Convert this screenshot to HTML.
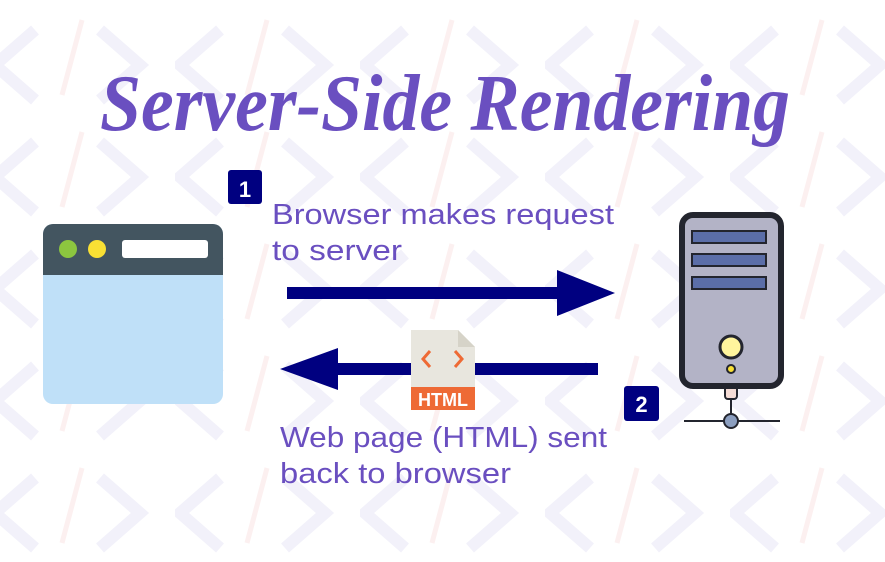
<!DOCTYPE html>
<html><head><meta charset="utf-8"><style>
html,body{margin:0;padding:0;background:#fff}
svg{display:block}
</style></head><body>
<svg width="885" height="562" viewBox="0 0 885 562" xmlns="http://www.w3.org/2000/svg">
<defs>
<pattern id="bg" width="185" height="112" patternUnits="userSpaceOnUse" x="-10" y="10">
<path d="M45 20 L5 55 L45 90" fill="none" stroke="#f2f1fa" stroke-width="12"/>
<path d="M110 20 L150 55 L110 90" fill="none" stroke="#f2f1fa" stroke-width="12"/>
<line x1="92" y1="10" x2="72" y2="85" stroke="#fcf0f0" stroke-width="5"/>
</pattern>
</defs>
<rect width="885" height="562" fill="#fff"/>
<rect width="885" height="562" fill="url(#bg)"/>
<text x="100" y="130" font-family="Liberation Serif, serif" font-style="italic" font-weight="bold" font-size="80" fill="#6a4fc0" textLength="690" lengthAdjust="spacingAndGlyphs">Server-Side Rendering</text>
<rect x="228" y="170" width="34" height="34" rx="3" fill="#000080"/>
<text x="245" y="197" font-family="Liberation Sans, sans-serif" font-weight="bold" font-size="22" fill="#fff" text-anchor="middle">1</text>
<g font-family="Liberation Sans, sans-serif" font-size="29" fill="#6a4fc0">
<text x="272" y="224" textLength="342" lengthAdjust="spacingAndGlyphs">Browser makes request</text>
<text x="272" y="260" textLength="130" lengthAdjust="spacingAndGlyphs">to server</text>
<text x="280" y="447" textLength="327" lengthAdjust="spacingAndGlyphs">Web page (HTML) sent</text>
<text x="280" y="483" textLength="231" lengthAdjust="spacingAndGlyphs">back to browser</text>
</g>
<rect x="287" y="287" width="275" height="12" fill="#000080"/>
<polygon points="557,270 615,293 557,316" fill="#000080"/>
<rect x="330" y="363" width="268" height="12" fill="#000080"/>
<polygon points="338,348 280,369 338,390" fill="#000080"/>
<polygon points="411,330 458,330 475,347 475,410 411,410" fill="#e8e6de"/>
<polygon points="458,330 475,347 458,347" fill="#d6d3c8"/>
<path d="M430 351 L423 359 L430 367 M455 351 L462 359 L455 367" fill="none" stroke="#ee6a35" stroke-width="3"/>
<rect x="411" y="387" width="64" height="23" fill="#ee6a35"/>
<text x="443" y="406" font-family="Liberation Sans, sans-serif" font-weight="bold" font-size="18" fill="#fff" text-anchor="middle">HTML</text>
<rect x="624" y="386" width="35" height="35" rx="3" fill="#000080"/>
<text x="641.5" y="412" font-family="Liberation Sans, sans-serif" font-weight="bold" font-size="22" fill="#fff" text-anchor="middle">2</text>
<rect x="43" y="224" width="180" height="180" rx="10" fill="#bfe0f8"/>
<path d="M43 275 V234 a10 10 0 0 1 10 -10 H213 a10 10 0 0 1 10 10 V275 Z" fill="#435560"/>
<circle cx="68" cy="249" r="9" fill="#8cc63f"/>
<circle cx="97" cy="249" r="9" fill="#f9e034"/>
<rect x="122" y="240" width="86" height="18" rx="3" fill="#fff"/>
<rect x="725" y="385" width="12" height="14" rx="3" fill="#f5dcd6" stroke="#23252e" stroke-width="2"/>
<line x1="731" y1="399" x2="731" y2="415" stroke="#23252e" stroke-width="2"/>
<line x1="684" y1="421" x2="780" y2="421" stroke="#23252e" stroke-width="2"/>
<circle cx="731" cy="421" r="7" fill="#8c9fc0" stroke="#23252e" stroke-width="2"/>
<rect x="682" y="215" width="99" height="171" rx="11" fill="#b3b3c6" stroke="#23252e" stroke-width="6"/>
<rect x="692" y="231" width="74" height="12" fill="#5b6ea8" stroke="#23252e" stroke-width="2"/>
<rect x="692" y="254" width="74" height="12" fill="#5b6ea8" stroke="#23252e" stroke-width="2"/>
<rect x="692" y="277" width="74" height="12" fill="#5b6ea8" stroke="#23252e" stroke-width="2"/>
<circle cx="731" cy="347" r="11" fill="#fff59d" stroke="#23252e" stroke-width="3"/>
<circle cx="731" cy="369" r="4" fill="#f9e034" stroke="#23252e" stroke-width="2"/>
</svg>
</body></html>
